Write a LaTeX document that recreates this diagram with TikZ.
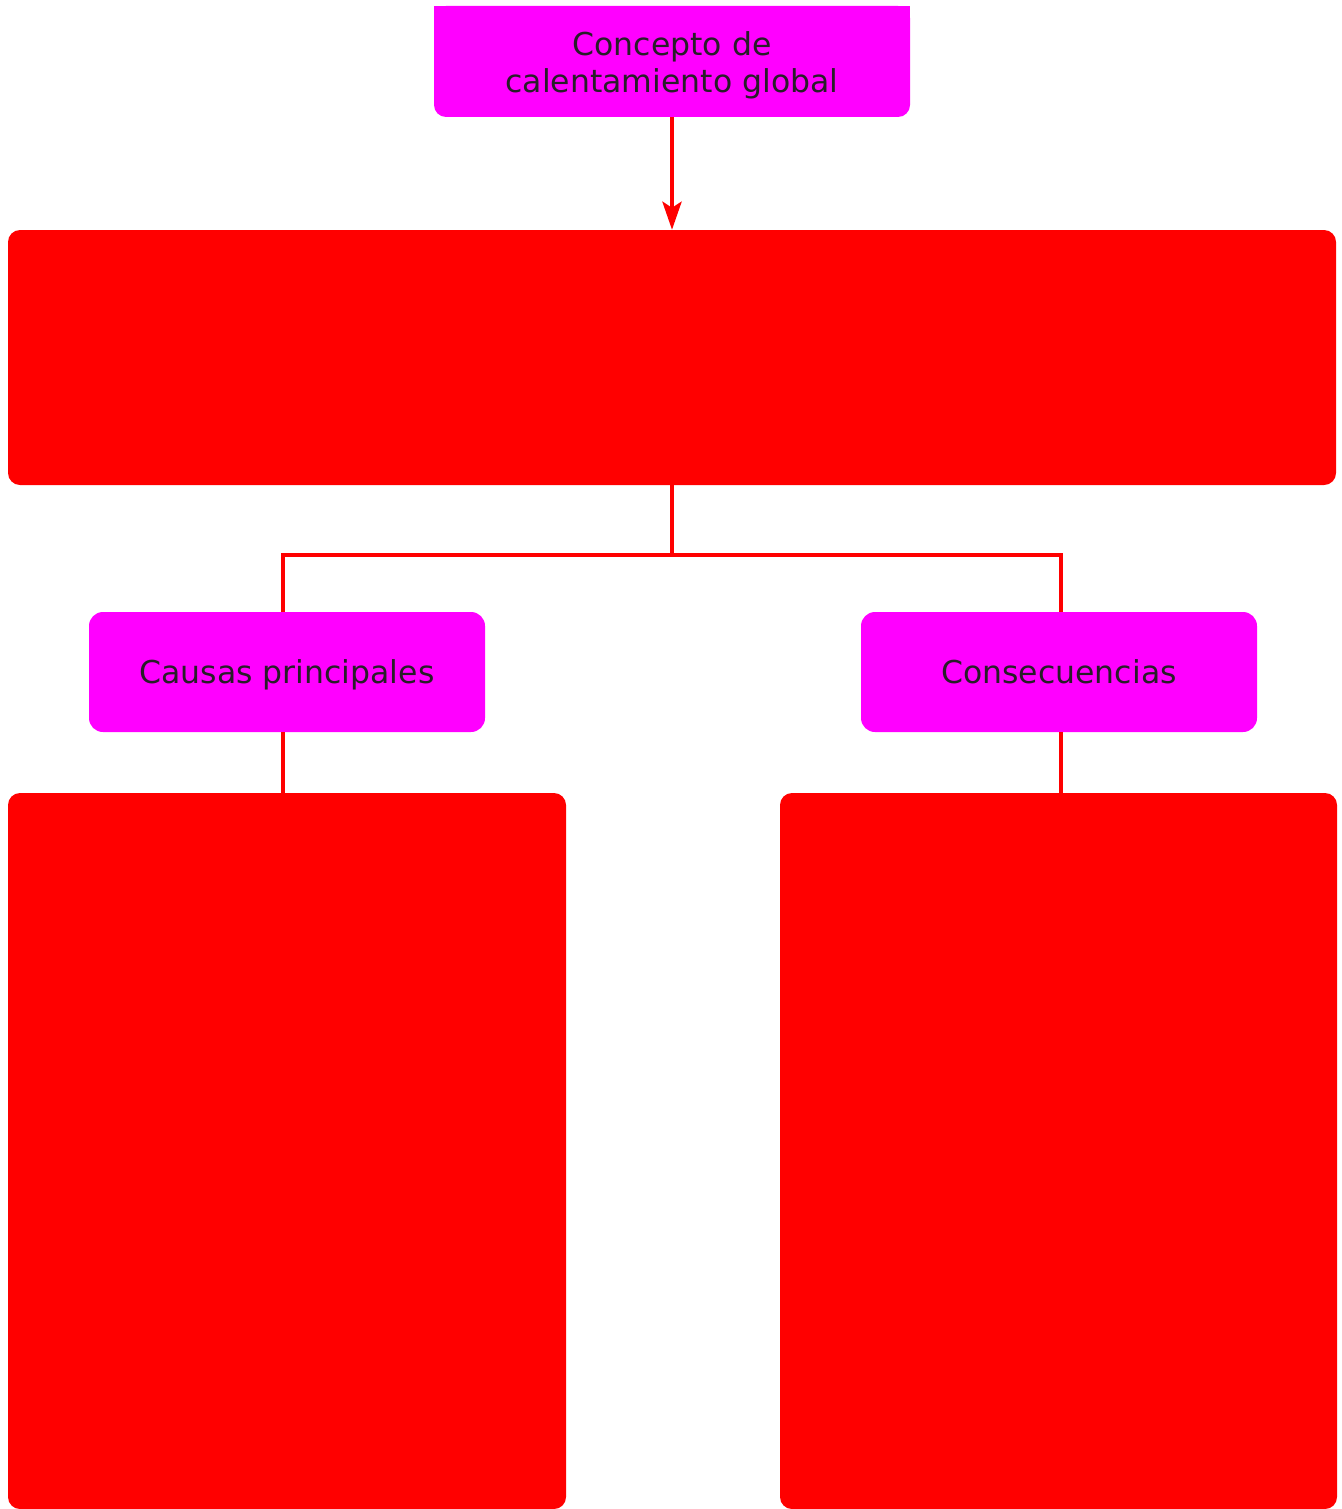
\documentclass[tikz,border=0pt]{standalone}
\usepackage{fontspec}
\setmainfont{DejaVu Sans}
\usetikzlibrary{arrows.meta}
\definecolor{mag}{RGB}{255,0,255}
\definecolor{rd}{RGB}{255,0,0}
\definecolor{txt}{RGB}{40,30,40}
\begin{document}
\begin{tikzpicture}[x=1pt,y=-1pt,
  magbox/.style={fill=mag,rounded corners=14pt,inner sep=0pt,align=center,text=txt,
    font=\fontsize{31.5}{37}\selectfont,text depth=0pt},
  redbox/.style={fill=rd,rounded corners=12pt,inner sep=0pt},
  conn/.style={draw=rd,line width=4.5pt},
]
\useasboundingbox (0,0) rectangle (1341,1509);
% top box (square top corners)
\fill[mag,rounded corners=12pt] (434,6) rectangle (910,117);
\fill[mag] (434,6) rectangle (910,40);
\node[inner sep=0pt,align=center,text=txt,font=\fontsize{31.5}{37}\selectfont,
  minimum width=476pt,minimum height=111pt] (top) at (672,65.5) {Concepto de\\calentamiento global};
\coordinate (topS) at (672,117);
\node[redbox,minimum width=1328pt,minimum height=255pt] (big) at (672,357.5) {};
\node[magbox,minimum width=396pt,minimum height=120pt] (causas) at (287,672) {Causas principales};
\node[magbox,minimum width=396pt,minimum height=120pt] (cons) at (1059,672) {Consecuencias};
\node[redbox,minimum width=558pt,minimum height=716pt] (left) at (287,1151) {};
\node[redbox,minimum width=557pt,minimum height=716pt] (right) at (1058.5,1151) {};
\draw[conn,-{Stealth[length=28pt,width=19pt,inset=6pt]}] (topS) -- (big.north);
\draw[conn] (big.south) -- ++(0,70) coordinate (j) -| ([xshift=-4pt]causas.north);
\draw[conn] (j) -| ([xshift=2pt]cons.north);
\draw[conn] ([xshift=-4pt]causas.south) -- ([xshift=-4pt]left.north);
\draw[conn] ([xshift=2pt]cons.south) -- ([xshift=2.5pt]right.north);
\end{tikzpicture}
\end{document}
